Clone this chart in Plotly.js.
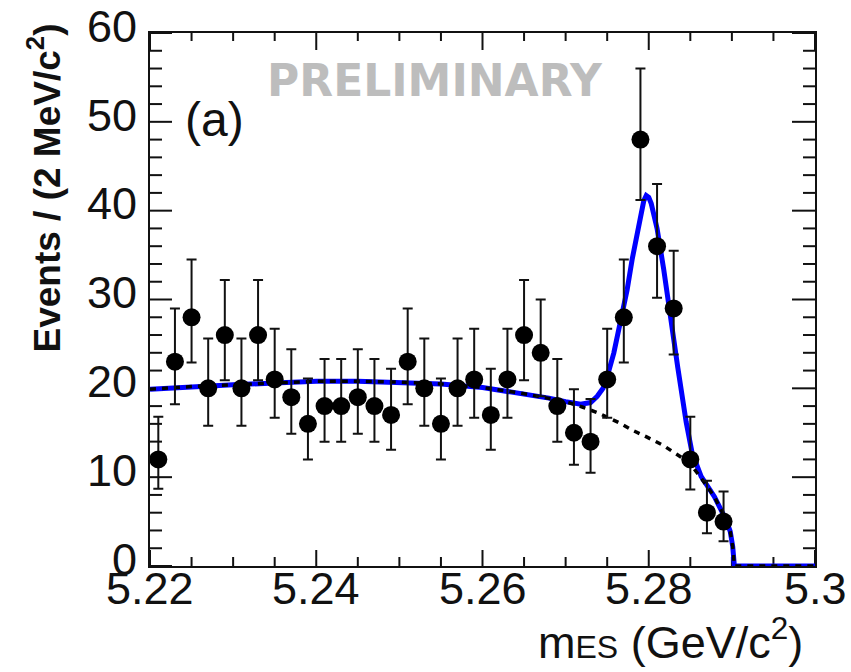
<!DOCTYPE html>
<html>
<head>
<meta charset="utf-8">
<script src="https://cdn.plot.ly/plotly-3.0.1.min.js"></script>
<style>html,body{margin:0;padding:0;background:#fff;}#chart{width:851px;height:672px;}</style>
</head>
<body>
<div id="chart"></div>
<script>
// Data points: bin centres (GeV/c^2), event counts, asymmetric errors
const binCenters = [5.221,5.223,5.225,5.227,5.229,5.231,5.233,5.235,5.237,5.239,5.241,5.243,5.245,5.247,5.249,5.251,5.253,5.255,5.257,5.259,5.261,5.263,5.265,5.267,5.269,5.271,5.273,5.275,5.277,5.279,5.281,5.283,5.285,5.287,5.289];
const counts = [12,23,28,20,26,20,26,21,19,16,18,18,19,18,17,23,20,16,20,21,17,21,26,24,18,15,14,21,28,48,36,29,12,6,5];
const errUp = [4.8,6.0,6.5,5.6,6.2,5.6,6.2,5.7,5.4,5.1,5.3,5.3,5.4,5.3,5.2,6.0,5.6,5.1,5.6,5.7,5.2,5.7,6.2,6.0,5.3,4.9,4.8,5.7,6.5,8.0,7.0,6.5,4.8,3.6,3.4];
const errDown = [3.3,4.8,5.1,4.2,5.1,4.2,5.1,4.3,4.1,4.0,4.0,4.0,4.1,4.0,3.9,4.8,4.2,4.0,4.2,4.3,3.9,4.3,5.1,4.9,4.0,3.6,3.5,4.3,5.1,6.8,5.8,5.2,3.4,2.3,2.2];

// Background (ARGUS) curve
const bkgX = [5.22,5.225,5.23,5.235,5.24,5.245,5.25,5.255,5.26,5.265,5.268,5.27,5.272,5.274,5.2765,5.278,5.2798,5.2817,5.2835,5.2849,5.2863,5.2879,5.2893,5.2898,5.2901,5.2903,5.30];
const bkgY = [19.9,20.2,20.4,20.6,20.8,20.8,20.7,20.5,20.1,19.4,18.9,18.5,17.9,17.2,16.1,15.3,14.5,13.6,12.5,11.6,9.9,7.8,5.2,3.9,2.2,0,0];

// Total fit (signal + background) curve
const totX = [5.22,5.225,5.23,5.235,5.24,5.245,5.25,5.255,5.26,5.265,5.268,5.27,5.2718,5.273,5.2738,5.2745,5.275,5.2758,5.2766,5.2774,5.278,5.2786,5.2791,5.2794,5.2797,5.28,5.2803,5.2806,5.281,5.2818,5.2826,5.2835,5.2845,5.2852,5.2863,5.2879,5.2893,5.2898,5.2901,5.2903,5.30];
const totY = [19.9,20.2,20.4,20.6,20.8,20.8,20.7,20.5,20.1,19.4,18.9,18.5,18.2,18.4,19.1,20.0,21.3,24.0,27.4,31.1,34.5,37.5,40.0,41.1,41.7,41.5,40.8,39.8,38.0,33.4,27.7,22.3,16.2,12.8,10.1,7.8,5.2,3.9,2.2,0,0];

// Axis ticks
const xTickVals = [5.22,5.24,5.26,5.28,5.30];
const xTickText = ['5.22','5.24','5.26','5.28','5.3'];
const yTickVals = [0,10,20,30,40,50,60];
const yTickText = ['0','10','20','30','40','50','60'];
const xMinorPerMajor = 4;   // minor tick every 0.005
const yMinorPerMajor = 5;   // minor tick every 2
const xRange = [5.22, 5.30];
const yRange = [0, 60];

const axisColor = '#111111';
const textFamily = 'Liberation Sans, Arial, sans-serif';
const tickFont = {family: textFamily, size: 45, color: '#111111'};

const W = 851, H = 672, M = {l: 150, r: 36, t: 33, b: 106};
const PW = W - M.l - M.r, PH = H - M.t - M.b;
const xPerPx = (xRange[1] - xRange[0]) / PW;
const yPerPx = (yRange[1] - yRange[0]) / PH;

// Tick positions and lengths (px) built from the tick arrays
const xt = {pos: [], lenB: [], lenT: []};
xTickVals.forEach((v, i) => {
  xt.pos.push(v); xt.lenB.push(16); xt.lenT.push(17);
  if (i < xTickVals.length - 1) {
    const step = (xTickVals[i + 1] - v) / xMinorPerMajor;
    for (let k = 1; k < xMinorPerMajor; k++) { xt.pos.push(v + k * step); xt.lenB.push(9); xt.lenT.push(8); }
  }
});
const yt = {pos: [], lenL: [], lenR: []};
yTickVals.forEach((v, i) => {
  yt.pos.push(v); yt.lenL.push(22); yt.lenR.push(23);
  if (i < yTickVals.length - 1) {
    const step = (yTickVals[i + 1] - v) / yMinorPerMajor;
    for (let k = 1; k < yMinorPerMajor; k++) { yt.pos.push(v + k * step); yt.lenL.push(12); yt.lenR.push(12); }
  }
});

// tick marks drawn as error bars on invisible anchor points
function tickTrace(x, y, errKey, plus, minus) {
  const t = {
    x: x, y: y, type: 'scatter', mode: 'markers', cliponaxis: false,
    marker: {color: 'rgba(0,0,0,0)', size: 1}, hoverinfo: 'skip', showlegend: false
  };
  t[errKey] = {type: 'data', symmetric: false, array: plus, arrayminus: minus,
               color: axisColor, thickness: 2, width: 0};
  return t;
}
const zerosX = xt.pos.map(() => 0), zerosY = yt.pos.map(() => 0);
const tickTraces = [
  tickTrace(xt.pos, xt.pos.map(() => yRange[0]), 'error_y', xt.lenB.map(l => l * yPerPx), zerosX),
  tickTrace(xt.pos, xt.pos.map(() => yRange[1]), 'error_y', zerosX, xt.lenT.map(l => l * yPerPx)),
  tickTrace(yt.pos.map(() => xRange[0]), yt.pos, 'error_x', yt.lenL.map(l => l * xPerPx), zerosY),
  tickTrace(yt.pos.map(() => xRange[1]), yt.pos, 'error_x', zerosY, yt.lenR.map(l => l * xPerPx))
];

// x tick labels placed close under the axis, as in the reference
const annotations = xTickVals.map((v, i) => ({
  text: xTickText[i], xref: 'x', yref: 'paper', x: v, y: -22 / PH,
  xanchor: 'center', yanchor: 'middle', showarrow: false, font: tickFont
}));
annotations.push(
  {text: 'Events / (2 MeV/c<sup>2</sup>)', xref: 'paper', yref: 'paper',
   x: -0.158, y: 0.71, xanchor: 'center', yanchor: 'middle', textangle: -90, showarrow: false,
   font: {family: textFamily, size: 37, color: '#111111', weight: 'bold'}},
  {text: 'm<span style="font-size:32px">ES</span> (GeV/c<sup>2</sup>)', xref: 'paper', yref: 'paper',
   x: 0.985, y: -104 / PH, xanchor: 'right', yanchor: 'bottom', showarrow: false,
   font: {family: textFamily, size: 45, color: '#111111'}},
  {text: '(a)', xref: 'paper', yref: 'paper',
   x: (214 - M.l) / PW, y: (566 - 119) / PH, xanchor: 'center', yanchor: 'middle', showarrow: false,
   font: {family: textFamily, size: 48, color: '#111111'}},
  {text: 'PRELIMINARY', xref: 'paper', yref: 'paper',
   x: (435 - M.l) / PW, y: (566 - 80) / PH, xanchor: 'center', yanchor: 'middle', showarrow: false,
   font: {family: 'DejaVu Sans, sans-serif', size: 44, color: '#bdbdbd', weight: 'bold'}}
);

const traces = tickTraces.concat([
  {
    x: totX, y: totY, type: 'scatter', mode: 'lines', cliponaxis: false,
    line: {color: '#0000ff', width: 5},
    hoverinfo: 'skip', showlegend: false
  },
  {
    x: bkgX, y: bkgY, type: 'scatter', mode: 'lines', cliponaxis: false,
    line: {color: '#000000', width: 3.5, dash: '6px,6px'},
    hoverinfo: 'skip', showlegend: false
  },
  {
    x: binCenters, y: counts, type: 'scatter', mode: 'markers',
    marker: {color: '#000000', size: 18, symbol: 'circle'},
    error_y: {type: 'data', symmetric: false, array: errUp, arrayminus: errDown,
              color: '#111111', thickness: 2, width: 5},
    showlegend: false
  }
]);

const layout = {
  width: W, height: H,
  margin: M,
  paper_bgcolor: '#ffffff', plot_bgcolor: '#ffffff',
  showlegend: false,
  xaxis: {
    range: xRange, tickvals: xTickVals, ticktext: xTickText, showticklabels: false,
    ticks: '', showline: true, linewidth: 2, linecolor: axisColor, mirror: true,
    showgrid: false, zeroline: false
  },
  yaxis: {
    range: yRange, tickvals: yTickVals, ticktext: yTickText,
    ticks: '', showline: true, linewidth: 2, linecolor: axisColor, mirror: true,
    showgrid: false, zeroline: false, tickfont: tickFont, ticklabelshift: -7, ticklabelstandoff: 2
  },
  annotations: annotations
};

Plotly.newPlot('chart', traces, layout, {displayModeBar: false});
</script>
</body>
</html>
